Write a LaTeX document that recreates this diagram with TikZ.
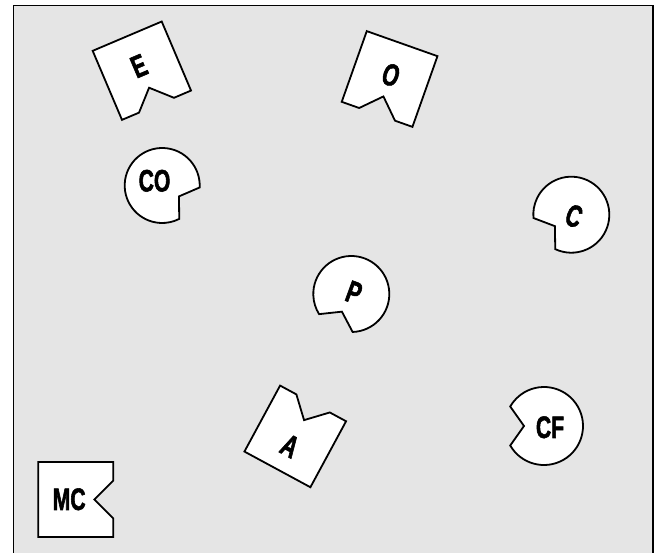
\documentclass[tikz,border=0pt]{standalone}
\usepackage{fontspec}
\newfontfamily\labfont[FakeStretch=0.68, FakeBold=1.8]{Liberation Sans Bold}
\definecolor{framegray}{HTML}{E5E5E5}
\newcommand\notchsquare[3]{%
  \begin{scope}[shift={(#1,-#2)}, rotate=#3]
    \draw[shapeline] (-37.5,37.5) -- (37.5,37.5) -- (37.5,-37.5) -- (19,-37.5) -- (0,-18.5) -- (-19,-37.5) -- (-37.5,-37.5) -- cycle;
  \end{scope}}
\newcommand\notchcircle[4]{%
  \begin{scope}[shift={(#1,-#2)}, rotate=#3]
    \draw[shapeline] (30:#4) arc[start angle=30, end angle=330, radius=#4] -- (20,0) -- cycle;
  \end{scope}}
\begin{document}
\begin{tikzpicture}[x=1pt,y=1pt,
  shapeline/.style={draw=black, line width=1.8pt, fill=white, line join=miter},
  lab/.style={font={\fontsize{31pt}{31pt}\labfont\selectfont}, inner sep=0pt}]
\useasboundingbox (0,0) rectangle (655,-553);
\fill[white] (0,0) rectangle (655,-553);
\fill[framegray] (13.5,-5.5) rectangle (653,-553);
\draw[line width=1.3pt] (13.5,-553) -- (13.5,-5.5) -- (653,-5.5) -- (653,-553);
% squares
\notchsquare{141.85}{70.7}{23}
\notchsquare{389.6}{79}{-19.5}
\notchsquare{295.25}{436.4}{151.6}
\notchsquare{75.8}{499.5}{90}
% circles
\notchcircle{162.2}{185.5}{-33}{37.5}
\notchcircle{571.3}{214.7}{215}{38}
\notchcircle{351.3}{294}{242}{38}
\notchcircle{544}{426}{180}{39}
% labels
\node[lab, rotate=23] (lE) at (139,-66) {E};
\node[lab, rotate=-19.5] (lO) at (391,-75) {O};
\node[lab, rotate=-28.4] (lA) at (290,-446) {A};
\node[lab] (lMC) at (69.2,-499.3) {MC};
\node[lab] (lCO) at (154.5,-180.8) {CO};
\node[lab, rotate=-20] (lC) at (574,-216) {C};
\node[lab, rotate=-20] (lP) at (354,-292.5) {P};
\node[lab] (lCF) at (550,-427.3) {CF};
\end{tikzpicture}
\end{document}
